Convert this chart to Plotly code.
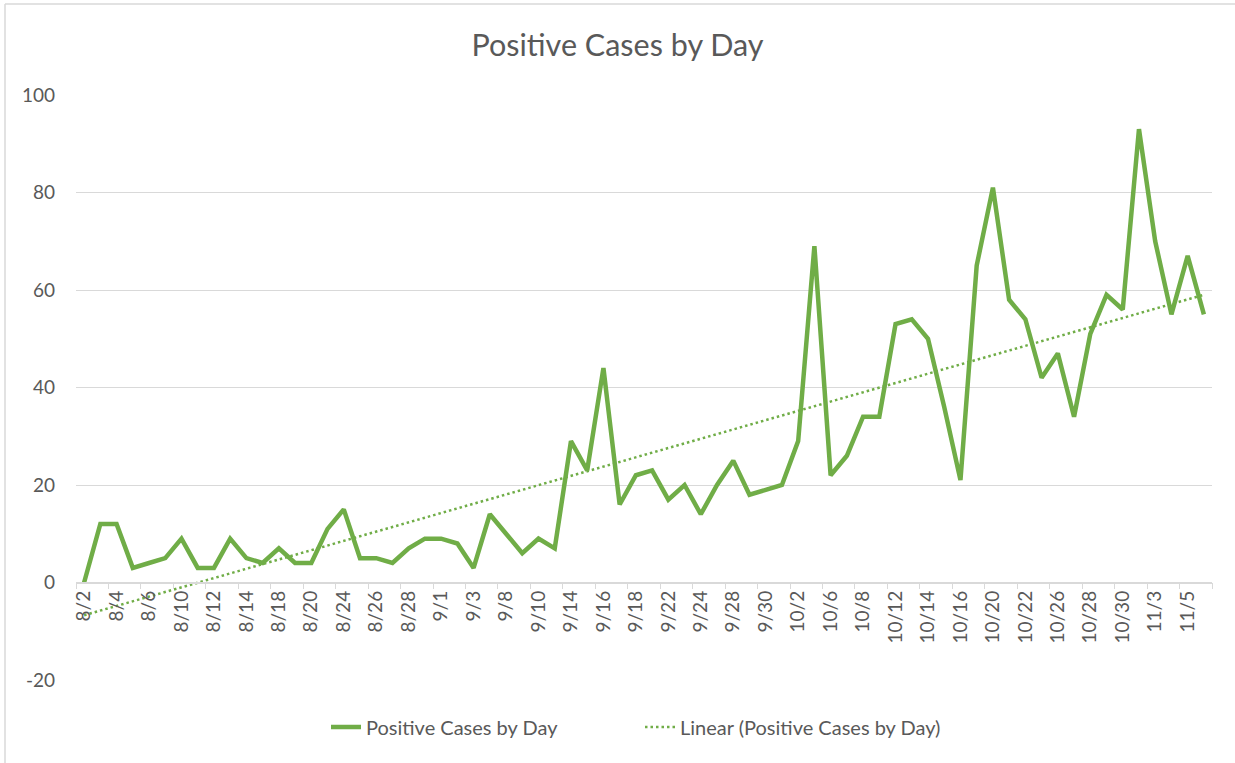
import numpy as np
import plotly.graph_objects as go

dates = ["8/2", "8/3", "8/4", "8/5", "8/6", "8/7", "8/10", "8/11", "8/12", "8/13",
         "8/14", "8/17", "8/18", "8/19", "8/20", "8/21", "8/24", "8/25", "8/26", "8/27",
         "8/28", "8/31", "9/1", "9/2", "9/3", "9/4", "9/8", "9/9", "9/10", "9/11",
         "9/14", "9/15", "9/16", "9/17", "9/18", "9/21", "9/22", "9/23", "9/24", "9/25",
         "9/28", "9/29", "9/30", "10/1", "10/2", "10/5", "10/6", "10/7", "10/8", "10/9",
         "10/12", "10/13", "10/14", "10/15", "10/16", "10/19", "10/20", "10/21", "10/22", "10/23",
         "10/26", "10/27", "10/28", "10/29", "10/30", "11/2", "11/3", "11/4", "11/5", "11/6"]

cases = [0, 12, 12, 3, 4, 5, 9, 3, 3, 9,
         5, 4, 7, 4, 4, 11, 15, 5, 5, 4,
         7, 9, 9, 8, 3, 14, 10, 6, 9, 7,
         29, 23, 44, 16, 22, 23, 17, 20, 14, 20,
         25, 18, 19, 20, 29, 69, 22, 26, 34, 34,
         53, 54, 50, 36, 21, 65, 81, 58, 54, 42,
         47, 34, 51, 59, 56, 93, 70, 55, 67, 55]

y_ticks = [-20, 0, 20, 40, 60, 80, 100]
y_tick_labels = ["-20", "0", "20", "40", "60", "80", "100"]

title_text = "Positive Cases by Day"
series_name = "Positive Cases by Day"
trend_name = "Linear (Positive Cases by Day)"

# linear trendline (least squares, like Excel)
idx = np.arange(1, len(cases) + 1)
slope, intercept = np.polyfit(idx, cases, 1)
trend = slope * idx + intercept

GREEN = "#70AD47"
GRAY_TXT = "#595959"
GRID = "#D9D9D9"
FONT = "Lato"

W, H = 1235, 763
ML, MR, MT, MB = 76, 23, 95, 83

fig = go.Figure()
fig.add_trace(go.Scatter(x=dates, y=cases, mode="lines", name=series_name,
                         line=dict(color=GREEN, width=4.5), legend="legend"))
fig.add_trace(go.Scatter(x=dates, y=trend, mode="lines", name=trend_name,
                         line=dict(color=GREEN, width=2.5, dash="2.5px,3px"),
                         legend="legend2"))

y_min, y_max = y_ticks[0], y_ticks[-1]

px_to_x = lambda px: (px - ML) / (W - ML - MR)
py_to_y = lambda py: (H - MB - py) / (H - MT - MB)

legend_common = dict(orientation="h", xref="paper", xanchor="left",
                     y=py_to_y(727), yref="paper", yanchor="middle",
                     font=dict(family=FONT, size=20, color=GRAY_TXT),
                     bgcolor="rgba(0,0,0,0)")

fig.update_layout(
    width=W, height=H,
    margin=dict(l=ML, r=MR, t=MT, b=MB, autoexpand=False),
    paper_bgcolor="white", plot_bgcolor="white",
    font=dict(family=FONT, color=GRAY_TXT, size=19),
    title=dict(text=title_text, x=0.5, xref="container", xanchor="center",
               y=1 - 45 / H, yref="container", yanchor="middle",
               font=dict(family=FONT, size=30.5, color=GRAY_TXT)),
    legend=dict(x=px_to_x(326), **legend_common),
    legend2=dict(x=px_to_x(640), **legend_common),
    xaxis=dict(type="category", range=[-0.5, len(dates) - 0.5],
               anchor="free", position=(0 - y_min) / (y_max - y_min),
               showgrid=False, showline=True, linecolor=GRID, linewidth=1.5,
               ticks="outside", tickson="boundaries", ticklen=6, tickcolor=GRID,
               dtick=2, tickangle=-90, automargin=False,
               tickfont=dict(family=FONT, size=19, color=GRAY_TXT),
               zeroline=False),
    yaxis=dict(range=[y_min, y_max], tickvals=y_ticks, ticktext=y_tick_labels,
               showgrid=True, gridcolor=GRID, automargin=False,
               gridwidth=1.2, zeroline=False, showline=False, ticks="",
               ticklabelstandoff=20, tickfont=dict(family=FONT, size=19, color=GRAY_TXT)),
    showlegend=True,
)

# chart border (left and top edges visible in reference)
fig.add_shape(type="line", xref="paper", yref="paper",
              x0=px_to_x(5), x1=px_to_x(5), y0=py_to_y(4), y1=py_to_y(H),
              line=dict(color=GRID, width=1.5))
fig.add_shape(type="line", xref="paper", yref="paper",
              x0=px_to_x(5), x1=px_to_x(W), y0=py_to_y(4), y1=py_to_y(4),
              line=dict(color=GRID, width=1.5))

fig.write_html("out.html", config={"displayModeBar": False},
               post_script="document.body.style.margin='0px';")
